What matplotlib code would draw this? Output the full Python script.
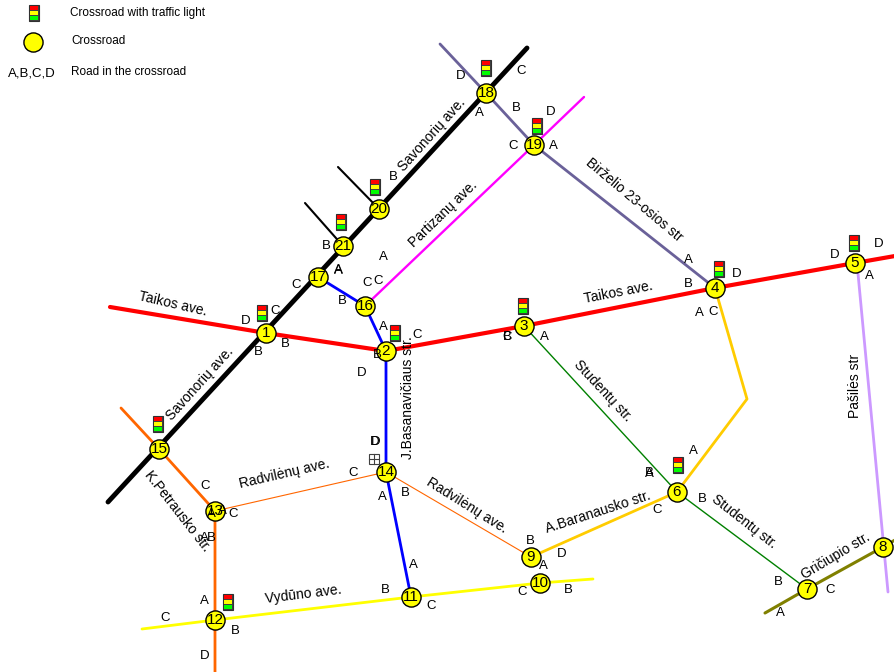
import matplotlib
matplotlib.use("Agg")
import matplotlib.pyplot as plt
from matplotlib.patches import Rectangle

plt.rcParams['font.family'] = ['Liberation Sans', 'DejaVu Sans']

# crossroads, in picture pixels
node_ids = list(range(1, 22))
node_x = [266, 386, 524, 715, 855, 677, 807, 883, 531, 540, 411, 215, 215, 386, 159, 365, 318, 486, 534, 379, 343]
node_y = [333, 351, 326, 288, 263, 492, 589, 547, 557, 583, 597, 620, 511, 472, 449, 306, 277, 93, 145, 209, 246]

# roads: x list, y list, colour, width
savonoriu_x = [108, 527]
savonoriu_y = [502, 48]
taikos_x = [110, 266, 386, 524, 715, 855, 895]
taikos_y = [307, 333, 351, 326, 288, 263, 256]
birzelio_x = [440, 486, 534, 715]
birzelio_y = [44, 93, 145, 288]
partizanu_x = [584, 534, 365]
partizanu_y = [97, 145, 306]
basanaviciaus_x = [318, 365, 386, 386, 411]
basanaviciaus_y = [277, 306, 351, 472, 597]
petrausko_x = [121, 159, 215, 215]
petrausko_y = [408, 449, 511, 672]
radvilenu_x = [215, 386, 531]
radvilenu_y = [511, 472, 557]
studentu_x = [524, 677, 807]
studentu_y = [326, 492, 589]
baranausko_x = [715, 747, 677, 531]
baranausko_y = [288, 399, 492, 557]
vyduno_x = [142, 215, 411, 540, 593]
vyduno_y = [629, 620, 597, 583, 579]
griciupio_x = [765, 807, 883, 895]
griciupio_y = [613, 589, 547, 540]
pasiles_x = [857, 888]
pasiles_y = [263, 592]
stub1_x = [305, 343]
stub1_y = [203, 246]
stub2_x = [338, 379]
stub2_y = [167, 209]

roads = [
    (stub1_x, stub1_y, "black", 1.5),
    (stub2_x, stub2_y, "black", 1.5),
    (birzelio_x, birzelio_y, "#6a6199", 2),
    (partizanu_x, partizanu_y, "#ff00ff", 1.7),
    (pasiles_x, pasiles_y, "#cc99ff", 2),
    (studentu_x, studentu_y, "#008000", 1),
    (radvilenu_x, radvilenu_y, "#ff6600", 0.8),
    (baranausko_x, baranausko_y, "#ffcc00", 2),
    (vyduno_x, vyduno_y, "#ffff00", 2),
    (griciupio_x, griciupio_y, "#808000", 2.2),
    (basanaviciaus_x, basanaviciaus_y, "#0000ff", 2),
    (petrausko_x, petrausko_y, "#ff6600", 2),
    (savonoriu_x, savonoriu_y, "black", 3.5),
    (taikos_x, taikos_y, "#ff0000", 3),
]

# traffic lights (centre)
light_x = [34, 486, 537, 375, 341, 262, 395, 523, 719, 854, 678, 158, 228]
light_y = [13, 68, 126, 187, 222, 313, 333, 306, 269, 243, 465, 424, 602]

# road letters
letters = ["D", "C", "B", "A", "C", "D", "A", "B", "A", "C", "B", "C", "A", "B", "C", "A", "B",
           "D", "C", "B", "C", "A", "D", "B", "A", "B", "C", "A", "D", "B", "A", "D", "A", "C", "D",
           "B", "A", "C", "B", "A", "B", "A", "C", "D", "B", "A", "C", "B", "D", "A", "C", "D", "B",
           "A", "C", "A", "B", "C", "A", "B", "C", "A", "D", "B", "C", "A"]
letter_x = [461, 521, 516, 479, 513, 551, 553, 393, 383, 367, 342, 378, 338, 326, 296, 338, 258,
            246, 275, 285, 417, 383, 362, 377, 544, 507, 507, 688, 737, 688, 699, 835, 869, 713, 879,
            649, 693, 657, 702, 649, 530, 543, 522, 562, 568, 413, 431, 385, 376, 382, 353, 375, 405,
            204, 165, 204, 235, 205, 211, 211, 233, 222, 205, 778, 830, 780]
letter_y = [76, 71, 108, 113, 146, 112, 146, 177, 257, 283, 301, 281, 271, 246, 285, 270, 352,
            321, 311, 344, 335, 327, 373, 355, 337, 337, 337, 260, 274, 284, 313, 255, 276, 312, 244,
            473, 451, 510, 499, 474, 541, 566, 592, 554, 590, 565, 606, 590, 442, 497, 473, 442, 493,
            601, 618, 538, 631, 486, 514, 538, 514, 511, 656, 582, 590, 613]

# street names: text, x, y, rotation
street_names = ["Savonorių ave.", "Savonorių ave.", "Taikos ave.", "Taikos ave.", "Taikos ave.",
                "Birželio 23-osios str", "Partizanų ave.", "J.Basanavičiaus str.", "Studentų str.",
                "Studentų str.", "Radvilėnų ave.", "Radvilėnų ave.", "A.Baranausko str.",
                "K.Petrausko str.", "Vydūno ave.", "Gričiupio str.", "Pašilės str"]
name_x = [432, 200, 173, 618, 0, 634, 443, 408, 603, 744, 284, 467, 598, 177, 303, 836, 855]
name_y = [135, 384, 304, 292, 0, 200, 214, 398, 391, 522, 474, 505, 512, 511, 594, 556, 386]
name_rot = [48, 48, -13, 11, 0, -40, 44, 90, -47, -38, 13, -32, 18, -52, 7, 31, 90]

fig = plt.figure(figsize=(8.95, 6.72), dpi=100)
ax = fig.add_axes([0, 0, 1, 1])
ax.set_xlim(0, 895)
ax.set_ylim(672, 0)
ax.axis("off")

for xs, ys, col, lw in roads:
    ax.plot(xs, ys, color=col, lw=lw, solid_capstyle="round", solid_joinstyle="round", zorder=2)

ax.scatter(node_x, node_y, s=190, c="#ffff00", edgecolors="black", linewidths=1, zorder=4)
for n, x, y in zip(node_ids, node_x, node_y):
    ax.text(x, y, str(n), ha="center", va="center", fontsize=11, color="black", zorder=5)


def traffic_light(x, y):
    ax.add_patch(Rectangle((x - 5, y - 8), 10, 16, fc="#404040", ec="#303030", lw=0.8, zorder=6))
    for i, col in enumerate(["#ff0000", "#ffff00", "#00ff00"]):
        ax.add_patch(Rectangle((x - 4, y - 7 + i * 5), 8, 4, fc=col, ec="none", zorder=7))


for x, y in zip(light_x, light_y):
    traffic_light(x, y)

for s, x, y in zip(letters, letter_x, letter_y):
    ax.text(x, y, s, ha="center", va="center", fontsize=9.5, zorder=6)

for s, x, y, r in zip(street_names, name_x, name_y, name_rot):
    if x == 0:
        continue
    ax.text(x, y, s, ha="center", va="center", fontsize=10, rotation=r,
            rotation_mode="anchor", zorder=6)

# legend, top left
ax.scatter([33], [42], s=190, c="#ffff00", edgecolors="black", linewidths=1, zorder=4)
ax.text(8, 73, "A,B,C,D", ha="left", va="center", fontsize=9.5)
ax.text(70, 13, "Crossroad with traffic light", ha="left", va="center", fontsize=8.5)
ax.text(71, 41, "Crossroad", ha="left", va="center", fontsize=8.5)
ax.text(71, 72, "Road in the crossroad", ha="left", va="center", fontsize=8.5)

# small grid sign next to crossroad 14
ax.add_patch(Rectangle((369, 454), 10, 10, fc="white", ec="#404040", lw=0.8, zorder=3))
ax.plot([374, 374], [454, 464], color="#404040", lw=0.8, zorder=3)
ax.plot([369, 379], [459, 459], color="#404040", lw=0.8, zorder=3)

fig.savefig("out.png", dpi=100)
